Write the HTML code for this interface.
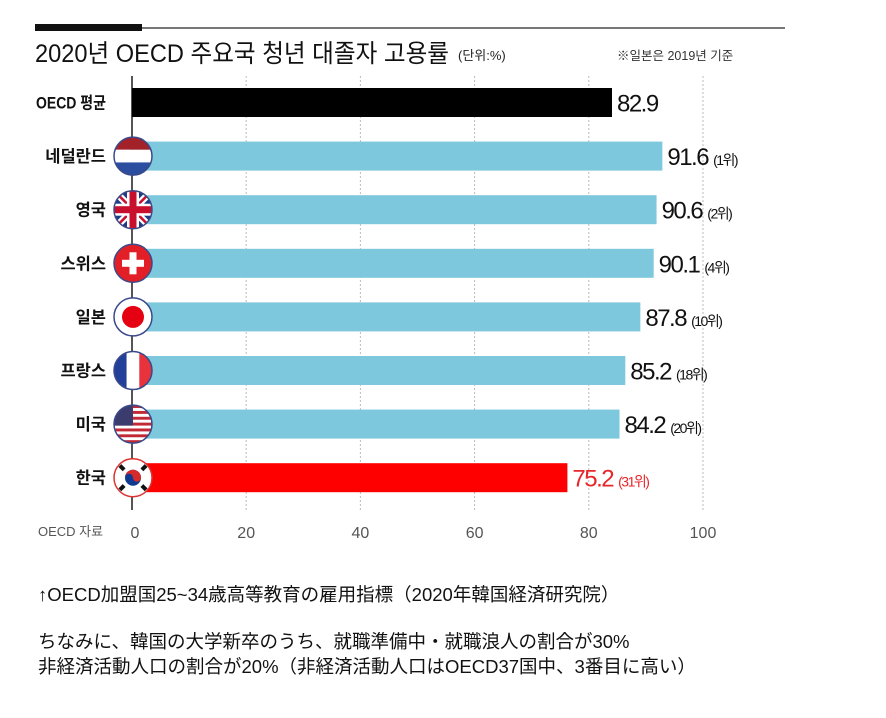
<!DOCTYPE html>
<html><head><meta charset="utf-8">
<style>
html,body{margin:0;padding:0;background:#fff;}
body{width:886px;height:718px;overflow:hidden;position:relative;font-family:"Liberation Sans","Noto Sans CJK KR",sans-serif;}
.note{position:absolute;left:38px;font-family:"Liberation Sans","Noto Sans CJK JP",sans-serif;font-size:18.5px;color:#111;white-space:nowrap;}
</style></head>
<body>
<svg id="chart" width="886" height="560" style="position:absolute;left:0;top:0" xmlns="http://www.w3.org/2000/svg">
  <rect x="35" y="24" width="107" height="7" fill="#111"/>
  <line x1="142" y1="28" x2="785" y2="28" stroke="#777" stroke-width="2"/>
  <text x="35" y="62" textLength="414" lengthAdjust="spacingAndGlyphs" font-family="Liberation Sans, Noto Sans CJK KR, sans-serif" font-size="25" fill="#111">2020년 OECD 주요국 청년 대졸자 고용률</text>
  <text x="458" y="60" font-family="Liberation Sans, Noto Sans CJK KR, sans-serif" font-size="13" fill="#222">(단위:%)</text>
  <text x="617" y="60" font-family="Liberation Sans, Noto Sans CJK KR, sans-serif" font-size="12.5" fill="#333">※일본은 2019년 기준</text>
  <g id="grid"></g>
  <line x1="132" y1="76" x2="132" y2="510" stroke="#555" stroke-width="2"/>
  <g id="bars"></g>
  <g id="ticks"></g>
  <text x="38" y="536" font-family="Liberation Sans, Noto Sans CJK KR, sans-serif" font-size="13" fill="#555">OECD 자료</text>
</svg>
<div class="note" style="top:581px">↑OECD加盟国25~34歳高等教育の雇用指標（2020年韓国経済研究院）</div>
<div class="note" style="top:628px">ちなみに、韓国の大学新卒のうち、就職準備中・就職浪人の割合が30%</div>
<div class="note" style="top:653px">非経済活動人口の割合が20%（非経済活動人口はOECD37国中、3番目に高い）</div>
<script>
const categories = ["OECD 평균","네덜란드","영국","스위스","일본","프랑스","미국","한국"];
const values = [82.9,91.6,90.6,90.1,87.8,85.2,84.2,75.2];
const ranks = ["","(1위)","(2위)","(4위)","(10위)","(18위)","(20위)","(31위)"];
const flags = ["","nl","uk","ch","jp","fr","us","kr"];
const tickValues = [0,20,40,60,80,100];

const NS="http://www.w3.org/2000/svg";
function x(v){return 132+v*5.79;}
function tickX(v){return 132+v*5.71;}
function rowTop(i){return 88+i*53.6;}
function mk(tag,attrs,parent){const e=document.createElementNS(NS,tag);for(const k in attrs)e.setAttribute(k,attrs[k]);parent.appendChild(e);return e;}
const grid=document.getElementById('grid'),bars=document.getElementById('bars'),ticks=document.getElementById('ticks');
const FF="Liberation Sans, Noto Sans CJK KR, sans-serif";

tickValues.forEach(t=>{
  if(t>0){
    const l=mk('line',{x1:tickX(t),x2:tickX(t),y1:76,y2:510,stroke:'#bbb','stroke-dasharray':'2,2'},grid);
    
    
  }
  const tx=mk('text',{x:tickX(t)+(t===0?3:0),y:538,'text-anchor':'middle','font-family':FF,'font-size':16,fill:'#555'},ticks);
  tx.textContent=t;
  
  
});

function flag(kind,cx,cy,g){
  const r=19;
  const id='clip'+kind;
  const cp=mk('clipPath',{id:id},g);mk('circle',{cx:cx,cy:cy,r:r},cp);
  const f=mk('g',{'clip-path':'url(#'+id+')'},g);
  const X=cx-r,Y=cy-r,D=2*r;
  if(kind==='nl'){mk('rect',{x:X,y:Y,width:D,height:D/3,fill:'#a3222a'},f);mk('rect',{x:X,y:Y+D/3,width:D,height:D/3,fill:'#fff'},f);mk('rect',{x:X,y:Y+2*D/3,width:D,height:D/3,fill:'#2c4ea0'},f);}
  if(kind==='uk'){mk('rect',{x:X,y:Y,width:D,height:D,fill:'#1f3b87'},f);mk('line',{x1:X,y1:Y,x2:X+D,y2:Y+D,stroke:'#fff','stroke-width':7},f);mk('line',{x1:X+D,y1:Y,x2:X,y2:Y+D,stroke:'#fff','stroke-width':7},f);mk('line',{x1:X,y1:Y,x2:X+D,y2:Y+D,stroke:'#c8102e','stroke-width':2.5},f);mk('line',{x1:X+D,y1:Y,x2:X,y2:Y+D,stroke:'#c8102e','stroke-width':2.5},f);mk('rect',{x:cx-6,y:Y,width:12,height:D,fill:'#fff'},f);mk('rect',{x:X,y:cy-6,width:D,height:12,fill:'#fff'},f);mk('rect',{x:cx-3.5,y:Y,width:7,height:D,fill:'#c8102e'},f);mk('rect',{x:X,y:cy-3.5,width:D,height:7,fill:'#c8102e'},f);}
  if(kind==='ch'){mk('rect',{x:X,y:Y,width:D,height:D,fill:'#e21f26'},f);mk('rect',{x:cx-3.5,y:cy-11,width:7,height:22,fill:'#fff'},f);mk('rect',{x:cx-11,y:cy-3.5,width:22,height:7,fill:'#fff'},f);}
  if(kind==='jp'){mk('rect',{x:X,y:Y,width:D,height:D,fill:'#fff'},f);mk('circle',{cx:cx,cy:cy,r:11,fill:'#e50012'},f);}
  if(kind==='fr'){mk('rect',{x:X,y:Y,width:D/3,height:D,fill:'#22409a'},f);mk('rect',{x:X+D/3,y:Y,width:D/3,height:D,fill:'#fff'},f);mk('rect',{x:X+2*D/3,y:Y,width:D/3,height:D,fill:'#e8323c'},f);}
  if(kind==='us'){mk('rect',{x:X,y:Y,width:D,height:D,fill:'#fff'},f);for(let s=0;s<13;s+=2)mk('rect',{x:X,y:Y+s*D/13,width:D,height:D/13,fill:'#c22935'},f);mk('rect',{x:X,y:Y,width:D*0.5,height:D*0.54,fill:'#3c3b6e'},f);}
  if(kind==='kr'){mk('rect',{x:X,y:Y,width:D,height:D,fill:'#fff'},f);mk('circle',{cx:cx,cy:cy,r:8,fill:'#0f3a8f'},f);mk('path',{d:`M${cx-8},${cy} A8,8 0 0 1 ${cx+8},${cy} A4,4 0 0 1 ${cx},${cy} A4,4 0 0 0 ${cx-8},${cy}Z`,fill:'#d72a2a'},f);
    [[-12,-10],[10,-10],[-12,10],[10,10]].forEach(p=>mk('rect',{x:cx+p[0]-1,y:cy+p[1]-3,width:4,height:6,fill:'#111',transform:`rotate(${p[0]*p[1]>0?-45:45} ${cx+p[0]+1} ${cy+p[1]})`},f));}
  mk('circle',{cx:cx,cy:cy,r:r,fill:'none',stroke:kind==='kr'?'#d33':'#3a4a8a','stroke-width':1.5},g);
}

categories.forEach((c,i)=>{
  const top=rowTop(i),h=29,cy=top+h/2;
  const color=i===0?'#000':(i===7?'#ff0000':'#7ec8de');
  const b=mk('rect',{x:132,y:top,width:x(values[i])-132,height:h,fill:color},bars);
  
  
  const lbl=mk('text',{x:106,y:cy+6,'text-anchor':'end','font-family':FF,'font-size':16.5,'font-weight':'bold',fill:'#111'},bars);
  lbl.textContent=c;
  if(i===0){lbl.setAttribute('textLength','70');lbl.setAttribute('lengthAdjust','spacingAndGlyphs');}
  
  
  if(flags[i]){
    const g=mk('g',{},bars);
    
    
    flag(flags[i],133,cy,g);
  }
  const vt=mk('text',{x:x(values[i])+5,y:cy+9,'font-family':FF,'font-size':24,fill:i===7?'#e8262a':'#111','letter-spacing':'-1.5'},bars);
  vt.textContent=values[i].toFixed(1);
  
  
  if(ranks[i]){
    const rt=mk('tspan',{'font-size':14,dx:5},vt);
    rt.textContent=ranks[i];
  }
});
</script>
</body></html>
